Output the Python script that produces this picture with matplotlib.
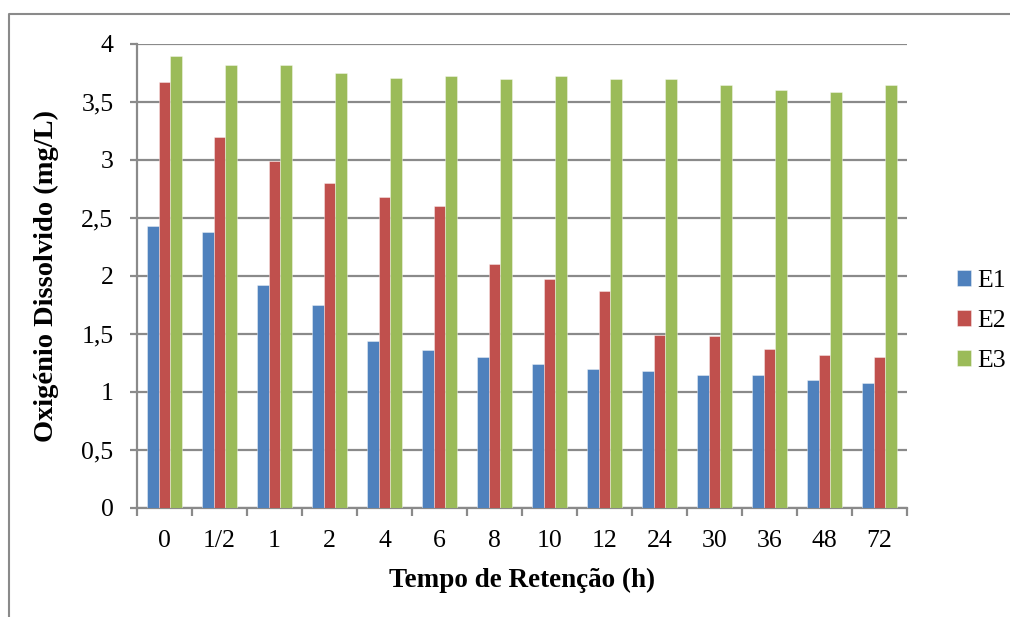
import matplotlib.pyplot as plt
from matplotlib.lines import Line2D
import numpy as np

plt.rcParams['font.family'] = ['Liberation Serif', 'DejaVu Serif']

tempos = ['0', '1/2', '1', '2', '4', '6', '8', '10', '12', '24', '30', '36', '48', '72']
e1 = [2.43, 2.38, 1.92, 1.75, 1.44, 1.36, 1.30, 1.24, 1.20, 1.18, 1.15, 1.15, 1.10, 1.08]
e2 = [3.67, 3.20, 2.99, 2.80, 2.68, 2.60, 2.10, 1.97, 1.87, 1.49, 1.48, 1.37, 1.32, 1.30]
e3 = [3.90, 3.82, 3.82, 3.75, 3.71, 3.72, 3.70, 3.72, 3.70, 3.70, 3.65, 3.60, 3.59, 3.65]
series = ['E1', 'E2', 'E3']
colors = ['#4F81BD', '#C0504D', '#9BBB59']
yticks = [0, 0.5, 1, 1.5, 2, 2.5, 3, 3.5, 4]

grid_color = '#8a8a8a'

fig = plt.figure(figsize=(10.1, 6.17), dpi=100)
ax = fig.add_axes([137 / 1010, 1 - 508 / 617, 770 / 1010, 464 / 617])

x = np.arange(len(tempos))
w = 0.218
for k, (vals, name, c) in enumerate(zip([e1, e2, e3], series, colors)):
    ax.bar(x + (k - 1) * w, vals, width=w, color=c, label=name,
           edgecolor=(1, 1, 1, 0.45), linewidth=0.6, zorder=3)

ax.set_xlim(-0.5, len(tempos) - 0.5)
ax.set_ylim(0, 4)

# y axis
ax.set_yticks(yticks)
ax.set_yticklabels([('%g' % v).replace('.', ',') for v in yticks], fontsize=18.5)
ax.yaxis.grid(True, color=grid_color, linewidth=1.6, zorder=0)
ax.set_axisbelow(True)
ax.tick_params(axis='y', length=5, width=1.6, color=grid_color, pad=12)

# x axis: ticks between groups, labels centred
ax.set_xticks(np.arange(-0.5, len(tempos), 1.0))
ax.set_xticklabels([])
ax.set_xticks(x, minor=True)
ax.set_xticklabels(tempos, minor=True, fontsize=18.5)
ax.tick_params(axis='x', which='major', length=6, width=1.6, color=grid_color)
ax.tick_params(axis='x', which='minor', length=0, pad=16)

for s in ['top', 'right']:
    ax.spines[s].set_visible(False)
for s in ['left', 'bottom']:
    ax.spines[s].set_color(grid_color)
    ax.spines[s].set_linewidth(1.6)

ax.set_xlabel('Tempo de Retenção (h)', fontsize=19.5, fontweight='bold', labelpad=11)
ax.set_ylabel('Oxigénio Dissolvido (mg/L)', fontsize=20.5, fontweight='bold', labelpad=16)

fig.legend(loc='center left', bbox_to_anchor=(944 / 1010, 1 - 321 / 617),
           frameon=False, fontsize=18.5, handlelength=0.55, handleheight=0.55,
           handletextpad=0.25, labelspacing=0.7, borderpad=0)

# outer chart border
fig.add_artist(Line2D([9 / 1010, 9 / 1010, 1.0], [0.0, 1 - 14 / 617, 1 - 14 / 617],
                      transform=fig.transFigure, color='#8a8a8a', linewidth=1.5))

fig.savefig('out.png', dpi=100)
